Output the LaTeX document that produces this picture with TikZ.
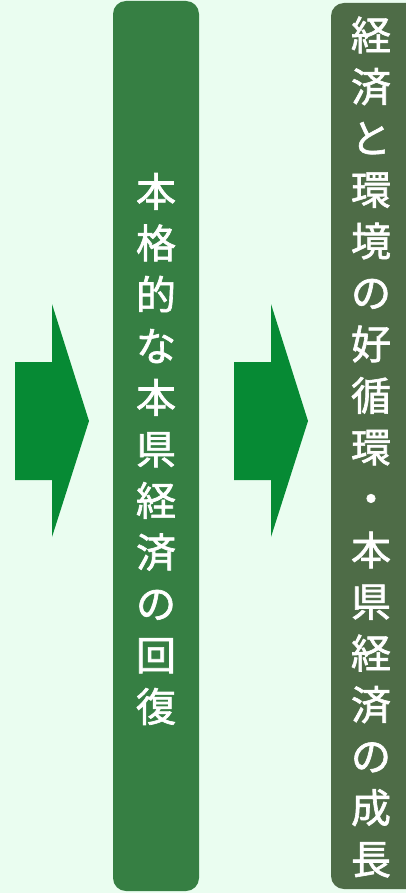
\documentclass[tikz,border=0pt]{standalone}
\usepackage{fontspec}
\setmainfont{Noto Sans CJK JP}
\newfontfamily\medfont{Noto Sans CJK JP}[FakeBold=1.6]
\definecolor{bgc}{HTML}{EAFDF0}
\definecolor{arrc}{HTML}{068A34}
\definecolor{boxa}{HTML}{367F43}
\definecolor{boxb}{HTML}{4E6C47}
\begin{document}
\begin{tikzpicture}[x=1pt,y=-1pt,
  blockarrow/.style={fill=arrc,draw=none},
  column/.style={draw=none,rounded corners=13pt},
  vtext/.style={text=white,align=center,inner sep=0pt,font=\fontsize{40}{51.5}\medfont}]
\fill[bgc] (0,0) rectangle (406,893);
\useasboundingbox (0,0) rectangle (406,893);
\fill[blockarrow] (15,362) -- (52,362) -- (52,304) -- (89,421) -- (52,537) -- (52,480) -- (15,480) -- cycle;
\fill[blockarrow] (234,362) -- (271,362) -- (271,304) -- (308,421) -- (271,537) -- (271,480) -- (234,480) -- cycle;
\fill[boxa,column] (113,1) rectangle (199,891);
\fill[boxb,column] (331,3) rectangle (420,889);
\node[vtext] (mid) at (156,449) {本\\格\\的\\な\\本\\県\\経\\済\\の\\回\\復};
\node[vtext] (right) at (371,447) {経\\済\\と\\環\\境\\の\\好\\循\\環\\・\\本\\県\\経\\済\\の\\成\\長};
\end{tikzpicture}
\end{document}
